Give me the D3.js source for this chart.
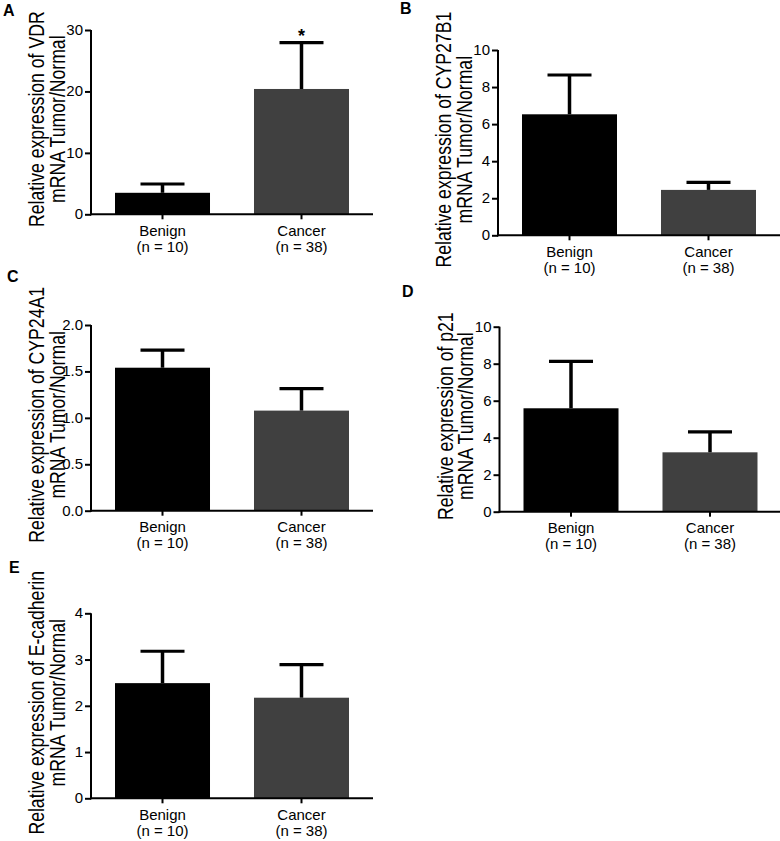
<!DOCTYPE html>
<html>
<head>
<meta charset="utf-8">
<script src="https://cdn.jsdelivr.net/npm/d3@7"></script>
<style>
  html, body { margin: 0; padding: 0; background: #fff; }
  svg { display: block; }
  text { font-family: Arial, "Liberation Sans", Helvetica, sans-serif; fill: #000; }
</style>
</head>
<body>
<svg id="chart" width="780" height="841"></svg>
<script>
// ---------- data ----------
const panelLetters = ["A", "B", "C", "D", "E"];
const genes = ["VDR", "CYP27B1", "CYP24A1", "p21", "E-cadherin"];
const categories = ["Benign", "Cancer"];
const sampleSizes = ["(n = 10)", "(n = 38)"];
const benignMean = [3.5, 6.53, 1.54, 5.59, 2.49];
const benignErr = [1.43, 2.12, 0.19, 2.54, 0.69];
const cancerMean = [20.4, 2.45, 1.078, 3.21, 2.175];
const cancerErr = [7.53, 0.41, 0.237, 1.11, 0.715];
const yMax = [30, 10, 2, 10, 4];
const yTicks = [
  [0, 10, 20, 30],
  [0, 2, 4, 6, 8, 10],
  [0, 0.5, 1.0, 1.5, 2.0],
  [0, 2, 4, 6, 8, 10],
  [0, 1, 2, 3, 4]
];
const tickFormats = ["d", "d", ".1f", "d", "d"];
const cancerMarks = ["*", "", "", "", ""];

// ---------- layout (style only) ----------
const layout = [
  { ax: 91,    top: 30,    bottom: 214.3, lx: 3,   ly: 15.5 },
  { ax: 498,   top: 50,    bottom: 235.3, lx: 400, ly: 14 },
  { ax: 91,    top: 325,   bottom: 510.7, lx: 7,   ly: 281.5 },
  { ax: 499.5, top: 326.7, bottom: 511.7, lx: 402, ly: 296.5 },
  { ax: 91,    top: 613.3, bottom: 798.3, lx: 9,   ly: 572.5 }
];
const fills = ["#000000", "#404040"];
const axisWidth = 282;

const svg = d3.select("#chart");

panelLetters.forEach((letter, i) => {
  const L = layout[i];
  const g = svg.append("g");

  const x = d3.scaleBand()
    .domain(categories)
    .range([L.ax, L.ax + axisWidth])
    .paddingInner(0.3165)
    .paddingOuter(0.1727);
  const y = d3.scaleLinear().domain([0, yMax[i]]).range([L.bottom, L.top]);

  const rows = categories.map((c, k) => ({
    cat: c,
    n: sampleSizes[k],
    mean: k === 0 ? benignMean[i] : cancerMean[i],
    err: k === 0 ? benignErr[i] : cancerErr[i],
    mark: k === 0 ? "" : cancerMarks[i],
    fill: fills[k]
  }));

  // bars
  g.selectAll("rect.bar").data(rows).join("rect")
    .attr("class", "bar")
    .attr("x", d => x(d.cat))
    .attr("width", x.bandwidth())
    .attr("y", d => y(d.mean))
    .attr("height", d => y(0) - y(d.mean))
    .attr("fill", d => d.fill);

  // error bars (upper only)
  const capHalf = 22;
  g.selectAll("line.err").data(rows).join("line")
    .attr("class", "err")
    .attr("x1", d => x(d.cat) + x.bandwidth() / 2)
    .attr("x2", d => x(d.cat) + x.bandwidth() / 2)
    .attr("y1", d => y(d.mean))
    .attr("y2", d => y(d.mean + d.err))
    .attr("stroke", "#000").attr("stroke-width", 3.5);
  g.selectAll("line.cap").data(rows).join("line")
    .attr("class", "cap")
    .attr("x1", d => x(d.cat) + x.bandwidth() / 2 - capHalf)
    .attr("x2", d => x(d.cat) + x.bandwidth() / 2 + capHalf)
    .attr("y1", d => y(d.mean + d.err))
    .attr("y2", d => y(d.mean + d.err))
    .attr("stroke", "#000").attr("stroke-width", 3.2);

  // significance marks
  g.selectAll("text.mark").data(rows.filter(d => d.mark)).join("text")
    .attr("class", "mark")
    .attr("x", d => x(d.cat) + x.bandwidth() / 2)
    .attr("y", d => y(d.mean + d.err) - 1)
    .attr("text-anchor", "middle")
    .attr("font-size", 18)
    .attr("font-weight", "bold")
    .text(d => d.mark);

  // y axis
  const yAxis = d3.axisLeft(y)
    .tickValues(yTicks[i])
    .tickFormat(d3.format(tickFormats[i]))
    .tickSize(6).tickSizeOuter(0).tickPadding(2);
  const ya = g.append("g").attr("transform", `translate(${L.ax},0)`).call(yAxis);
  ya.attr("font-family", null).attr("font-size", null);
  ya.select(".domain").attr("stroke-width", 2).attr("d", `M0,${L.bottom + 1}V${L.top}`);
  ya.selectAll(".tick line").attr("stroke-width", 2);
  ya.selectAll(".tick text").attr("font-size", 15).attr("dy", "0.3em");

  // x axis
  const xAxis = d3.axisBottom(x).tickSize(5).tickSizeOuter(0).tickFormat("");
  const xa = g.append("g").attr("transform", `translate(0,${L.bottom})`).call(xAxis);
  xa.select(".domain").attr("stroke-width", 2).attr("d", `M${L.ax - 1},0H${L.ax + axisWidth}`);
  xa.selectAll(".tick line").attr("stroke-width", 2);

  // category labels
  const cl = g.selectAll("text.cat").data(rows).join("text")
    .attr("class", "cat")
    .attr("text-anchor", "middle")
    .attr("font-size", 15);
  cl.append("tspan")
    .attr("x", d => x(d.cat) + x.bandwidth() / 2)
    .attr("y", L.bottom + 21.5)
    .text(d => d.cat);
  cl.append("tspan")
    .attr("x", d => x(d.cat) + x.bandwidth() / 2)
    .attr("y", L.bottom + 37.5)
    .text(d => d.n);

  // y axis title (condensed via horizontal scale along the text direction)
  const cy = (L.top + L.bottom) / 2 - 3;
  const yt = g.append("g")
    .attr("transform", `translate(${L.ax - 47},${cy}) rotate(-90) scale(0.82,1)`);
  const lines = ["Relative expression of " + genes[i], "mRNA Tumor/Normal"];
  lines.forEach((t, k) => {
    yt.append("text")
      .attr("x", 0).attr("y", k * 21)
      .attr("text-anchor", "middle")
      .attr("font-size", 21.5)
      .text(t);
  });

  // panel letter
  g.append("text")
    .attr("x", L.lx).attr("y", L.ly)
    .attr("font-family", "'Open Sans', 'DejaVu Sans', sans-serif")
    .attr("font-weight", "bold")
    .attr("font-size", 16)
    .text(letter);
});
</script>
</body>
</html>
